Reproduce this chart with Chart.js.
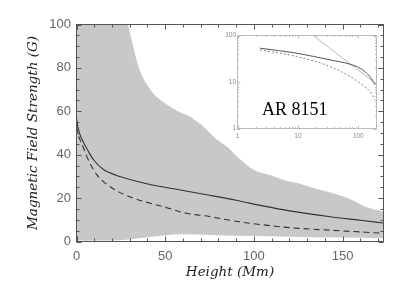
<!DOCTYPE html>
<html><head><meta charset="utf-8">
<script src="https://cdn.jsdelivr.net/npm/chart.js@4.4.0/dist/chart.umd.min.js"></script>
<style>
html,body{margin:0;padding:0;background:#fff;}
#wrap{position:relative;width:407px;height:291px;}
#main{position:absolute;left:0;top:0;}
#inset{position:absolute;left:215px;top:25px;}
#lbl{position:absolute;left:262px;top:100px;font-family:"Liberation Serif",serif;font-size:18px;color:#000;line-height:1;white-space:nowrap;}
</style></head>
<body><div id="wrap">
<canvas id="main" width="407" height="291"></canvas>
<canvas id="inset" width="175" height="120"></canvas>
<div id="lbl">AR 8151</div>
</div>
<script>
// ---- main panel data (Height in Mm, field in G) ----
const solidX = [0, 0.5, 1, 2, 3, 4, 6, 9.5, 15, 25, 43, 58.5, 75, 90, 105, 120, 143, 160, 173];
const solidY = [57, 54, 52, 49.2, 47.2, 45.5, 42.5, 37.8, 33.3, 29.8, 26, 23.7, 21.3, 19, 16.4, 14.1, 11.4, 9.8, 8.5];
const dashX = [0, 1, 2.3, 3.8, 5.5, 7.6, 11.4, 19, 30, 49, 62, 75, 90, 105, 120, 143, 173];
const dashY = [53, 49, 46.3, 43.4, 39.8, 36, 30.8, 25.2, 20.6, 16, 13, 11.5, 9.3, 7.7, 6.4, 5.2, 3.8];
const upperX = [0, 10, 20, 29, 35, 42.5, 49, 58.5, 63, 70, 79, 85, 92, 100, 109, 117, 125, 134, 141, 153, 163, 173];
const upperY = [250, 170, 128, 100, 80.5, 69, 64.3, 59.5, 58, 54, 47, 43.6, 38, 33, 30.6, 28.3, 26.8, 24.5, 23, 19.9, 16, 13.7];
const lowerX = [0, 20, 28, 40, 50, 58, 80, 100, 120, 150, 173];
const lowerY = [0.5, 0.5, 0.8, 2, 2.8, 3.3, 2.9, 2.5, 2.2, 1.8, 1.5];
const xTicks = [0, 50, 100, 150];
const yTicks = [0, 20, 40, 60, 80, 100];

// ---- inset data (log-log) ----
const inSolidX = [2.37, 9.6, 34, 73, 107, 155, 189];
const inSolidY = [53.3, 41.6, 29.9, 24.1, 19.8, 13.1, 8.7];
const inDashX = [2.37, 9.6, 34, 73, 107, 155, 189];
const inDashY = [49, 35.3, 21.5, 13.1, 9.4, 6.25, 4.1];
const inPowX = [18, 200];
const inPowY = [100, 9];
const inTicks = [1, 10, 100];

const pts = (xs, ys) => xs.map((x, i) => ({x: x, y: ys[i]}));

const frame = {
  id: 'frame',
  afterDraw(chart, args, o) {
    const {ctx, chartArea: a, scales} = chart;
    const xs = scales.x, ys = scales.y;
    ctx.save();
    ctx.strokeStyle = o.color; ctx.lineWidth = o.width;
    ctx.strokeRect(a.left, a.top, a.right - a.left, a.bottom - a.top);
    ctx.beginPath();
    o.xMinor.forEach(v => { const p = Math.round(xs.getPixelForValue(v)) + 0.5; const L = o.xMajor.includes(v) ? o.big : o.small;
      if (p < a.left || p > a.right) return;
      ctx.moveTo(p, a.bottom); ctx.lineTo(p, a.bottom - L); ctx.moveTo(p, a.top); ctx.lineTo(p, a.top + L); });
    o.yMinor.forEach(v => { const p = Math.round(ys.getPixelForValue(v)) + 0.5; const L = o.yMajor.includes(v) ? o.big : o.small;
      if (p < a.top - 1 || p > a.bottom + 1) return;
      ctx.moveTo(a.left, p); ctx.lineTo(a.left + L, p); ctx.moveTo(a.right, p); ctx.lineTo(a.right - L, p); });
    ctx.stroke();
    ctx.restore();
  }
};

const xMinorMain = []; for (let v = 0; v <= 170; v += 10) xMinorMain.push(v);
const yMinorMain = []; for (let v = 0; v <= 100; v += 5) yMinorMain.push(v);

new Chart(document.getElementById('main'), {
  type: 'line',
  data: { datasets: [
    { data: pts(solidX, solidY), borderColor: '#333', borderWidth: 1.1, pointRadius: 0, fill: false, cubicInterpolationMode: 'monotone', order: 1 },
    { data: pts(dashX, dashY), borderColor: '#333', borderWidth: 1.1, borderDash: [6, 4], pointRadius: 0, fill: false, cubicInterpolationMode: 'monotone', order: 1 },
    { data: pts(lowerX, lowerY), borderWidth: 0, borderColor: 'rgba(0,0,0,0)', pointRadius: 0, fill: false, cubicInterpolationMode: 'monotone', order: 2 },
    { data: pts(upperX, upperY), borderWidth: 0, borderColor: 'rgba(0,0,0,0)', backgroundColor: 'rgb(200,200,200)', pointRadius: 0, fill: 2, cubicInterpolationMode: 'monotone', order: 3 }
  ]},
  options: {
    responsive: false, animation: false, devicePixelRatio: 1,
    layout: { padding: { left: 0, top: 24.5, right: 23.5, bottom: 0 } },
    plugins: { legend: { display: false }, tooltip: { enabled: false },
      frame: { color: '#555', width: 1, big: 5, small: 3, xMajor: xTicks, xMinor: xMinorMain, yMajor: yTicks, yMinor: yMinorMain } },
    scales: {
      x: { type: 'linear', min: 0, max: 173, grid: { display: false, drawTicks: false }, border: { display: false },
        afterBuildTicks: s => { s.ticks = xTicks.map(v => ({value: v})); },
        afterFit: s => { s.height = 49.5; },
        ticks: { padding: 7, color: '#666', font: { family: 'Liberation Sans', size: 13 }, maxRotation: 0 },
        title: { display: true, text: 'Height (Mm)', color: '#222', font: { family: 'DejaVu Serif', style: 'italic', size: 13.5 }, padding: { top: 0, bottom: 10 } } },
      y: { type: 'linear', min: 0, max: 100, grid: { display: false, drawTicks: false }, border: { display: false },
        afterBuildTicks: s => { s.ticks = yTicks.map(v => ({value: v})); },
        afterFit: s => { s.width = 76.5; },
        ticks: { padding: 5.5, color: '#666', font: { family: 'Liberation Sans', size: 13 } },
        title: { display: true, text: 'Magnetic Field Strength (G)', color: '#222', font: { family: 'DejaVu Serif', style: 'italic', size: 13.5 }, padding: { top: 25, bottom: 0 } } }
    }
  },
  plugins: [frame]
});

const inMinor = []; [1, 10, 100].forEach(d => { for (let k = 1; k <= 9; k++) inMinor.push(d * k); });

new Chart(document.getElementById('inset'), {
  type: 'line',
  data: { datasets: [
    { data: pts(inSolidX, inSolidY), borderColor: '#555', borderWidth: 1, pointRadius: 0, cubicInterpolationMode: 'monotone' },
    { data: pts(inDashX, inDashY), borderColor: '#777', borderWidth: 0.9, borderDash: [2, 2], pointRadius: 0, cubicInterpolationMode: 'monotone' },
    { data: pts(inPowX, inPowY), borderColor: '#999', borderWidth: 0.7, pointRadius: 0 }
  ]},
  options: {
    responsive: false, animation: false, devicePixelRatio: 1,
    layout: { padding: { left: 0, top: 10.5, right: 13.5, bottom: 0 } },
    plugins: { legend: { display: false }, tooltip: { enabled: false },
      frame: { color: '#bbb', width: 1, big: 3, small: 1.5, xMajor: inTicks, xMinor: inMinor, yMajor: inTicks, yMinor: inMinor } },
    scales: {
      x: { type: 'logarithmic', min: 1, max: 200, grid: { display: false, drawTicks: false }, border: { display: false },
        afterBuildTicks: s => { s.ticks = inTicks.map(v => ({value: v})); },
        afterFit: s => { s.height = 16.5; },
        ticks: { padding: 4, color: '#888', font: { family: 'Liberation Sans', size: 6.5 }, maxRotation: 0, callback: v => String(v) } },
      y: { type: 'logarithmic', min: 1, max: 100, grid: { display: false, drawTicks: false }, border: { display: false },
        afterBuildTicks: s => { s.ticks = inTicks.map(v => ({value: v})); },
        afterFit: s => { s.width = 22.5; },
        ticks: { padding: 1.5, color: '#888', font: { family: 'Liberation Sans', size: 6.5 }, callback: v => String(v) } }
    }
  },
  plugins: [frame]
});
</script>
</body></html>
